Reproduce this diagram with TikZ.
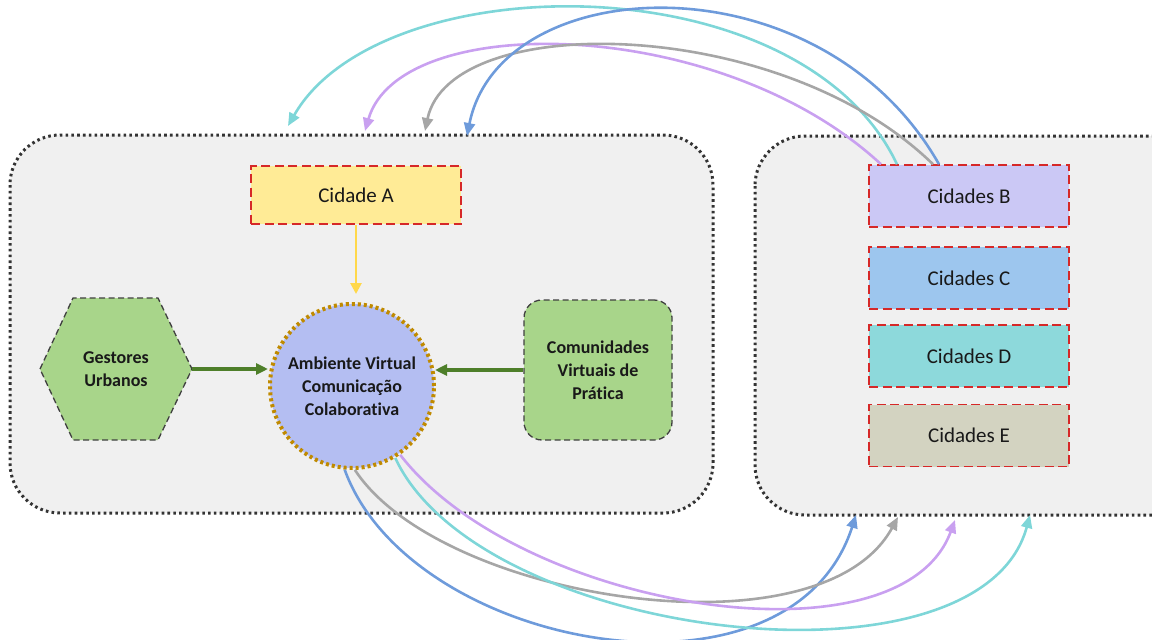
\documentclass[tikz,border=0pt]{standalone}
\usepackage{fontspec}
\setmainfont{Carlito}[Ligatures=NoCommon]
\usetikzlibrary{arrows.meta}
\definecolor{panel}{HTML}{F0F0F0}
\definecolor{cityA}{HTML}{FFEB96}
\definecolor{cityB}{HTML}{CBC8F5}
\definecolor{cityC}{HTML}{9DC6EE}
\definecolor{cityD}{HTML}{8DD9DB}
\definecolor{cityE}{HTML}{D3D3C1}
\definecolor{leaf}{HTML}{A8D58A}
\definecolor{hub}{HTML}{B4BEF2}
\definecolor{gold}{HTML}{C08A00}
\definecolor{dashred}{HTML}{D62828}
\definecolor{linkcyan}{HTML}{7ED6D8}
\definecolor{linkpurple}{HTML}{C9A0F0}
\definecolor{linkgray}{HTML}{A6A6A6}
\definecolor{linkblue}{HTML}{6E9BDB}
\definecolor{darkgreen}{HTML}{4E7F2A}
\definecolor{arrowyellow}{HTML}{FFD84A}
\tikzset{
  panelbox/.style={draw=black!80, fill=panel, line width=3pt, dash pattern=on 2.6pt off 3.2pt, rounded corners=50pt},
  citybox/.style={draw=dashred, line width=1.5pt, dash pattern=on 9pt off 4.5pt, minimum width=200pt, minimum height=62pt, inner sep=0pt, font=\fontsize{21}{25}\selectfont, text=black!90},
  greenbox/.style={draw=black!75, fill=leaf, line width=1.3pt, dash pattern=on 6pt off 3.5pt},
  boldtext/.style={font=\fontsize{18}{23}\selectfont\bfseries, align=center, text=black!90},
  link/.style={line width=2.6pt, -{Triangle[length=13pt,width=11pt]}},
  feed/.style={line width=3.5pt, darkgreen, -{Triangle[length=12pt,width=11pt]}},
}
\begin{document}
\begin{tikzpicture}[x=1pt,y=-1pt]
\useasboundingbox (0,0) rectangle (1152,640);
\clip (0,0) rectangle (1152,640);

% the two regions
\draw[panelbox] (10,135) rectangle (713,513);
\draw[panelbox] (755,136) rectangle (1210,515);

% city boxes
\node[citybox, fill=cityA, minimum width=210pt, minimum height=58pt] (A) at (356,195) {Cidade A};
\node[citybox, fill=cityB] (B) at (969,196) {Cidades B};
\node[citybox, fill=cityC] (C) at (969,278) {Cidades C};
\node[citybox, fill=cityD] (D) at (969,356) {Cidades D};
\node[citybox, fill=cityE] (E) at (969,435.5) {Cidades E};

% central hub
\node[circle, fill=hub, draw=gold, line width=4pt, dash pattern=on 3pt off 3pt,
      minimum size=164pt, inner sep=0pt, boldtext] (hub) at (352,386)
      {Ambiente Virtual\\Comunicação\\Colaborativa};

% urban managers (hexagon)
\draw[greenbox] (40,369) -- (73,298) -- (158,298) -- (192,369) -- (158,440) -- (73,440) -- cycle;
\node[boldtext] (G) at (116,369) {Gestores\\Urbanos};
\coordinate (Gr) at (192,369);

% communities of practice
\node[greenbox, rounded corners=18pt, minimum width=148pt, minimum height=140pt, boldtext] (V) at (598,370)
      {Comunidades\\Virtuais de\\Prática};

% inputs to the hub
\draw[line width=2.6pt, arrowyellow, -{Triangle[length=11pt,width=11pt]}] (A.south) -- (356,294);
\draw[feed] (Gr) -- (hub.west |- Gr);
\draw[feed] (V.west) -- (435,370);

% links from Cidades B back to the left region
\coordinate (tCyan) at (288,126);
\coordinate (tPurple) at (365,131);
\coordinate (tGray) at (425,131);
\coordinate (tBlue) at (467,136);
\draw[link, linkcyan] ([xshift=-72pt]B.north) .. controls (800,-40) and (380,-35) .. (tCyan);
\draw[link, linkpurple] ([xshift=-88pt]B.north) .. controls (720,15) and (400,10) .. (tPurple);
\draw[link, linkgray] ([xshift=-36pt]B.north) .. controls (780,15) and (450,10) .. (tGray);
\draw[link, linkblue] ([xshift=-30pt]B.north) .. controls (820,-45) and (500,-30) .. (tBlue);

% links from the hub to the right region
\coordinate (bBlue) at (856,515);
\coordinate (bGray) at (898,517);
\coordinate (bPurple) at (955,520);
\coordinate (bCyan) at (1030,515);
\draw[link, linkblue] (hub.-95) .. controls (410,650) and (790,720) .. (bBlue);
\draw[link, linkgray] (hub.-88) .. controls (440,600) and (820,660) .. (bGray);
\draw[link, linkpurple] (hub.-55) .. controls (520,610) and (900,670) .. (bPurple);
\draw[link, linkcyan] (hub.-59) .. controls (480,640) and (980,700) .. (bCyan);
\end{tikzpicture}
\end{document}
